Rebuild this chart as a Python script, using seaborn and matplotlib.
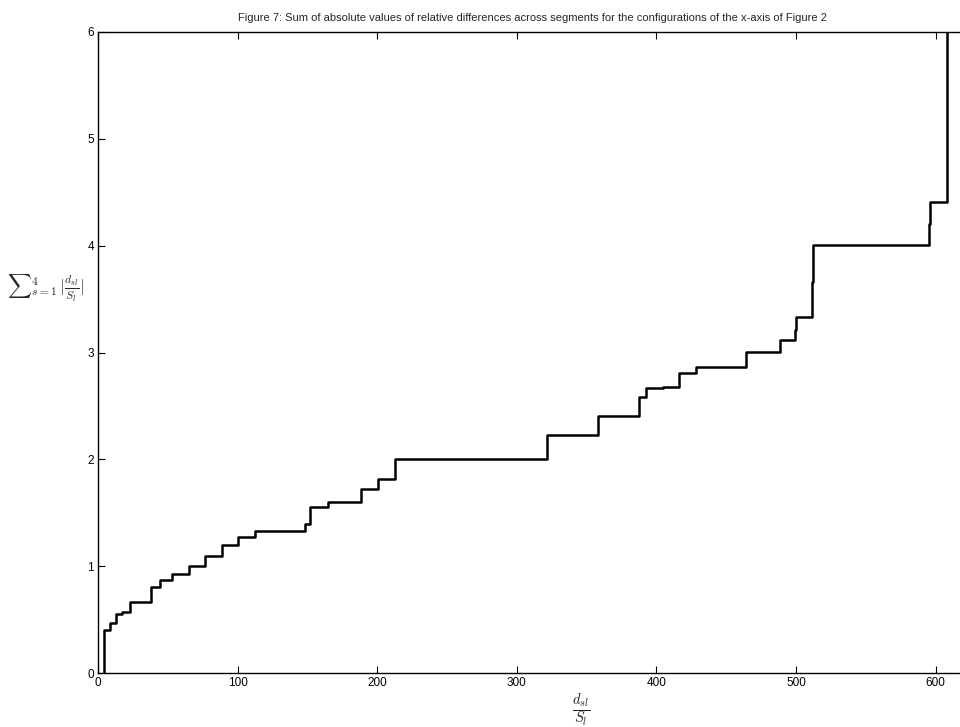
import matplotlib
matplotlib.use("Agg")
import matplotlib.pyplot as plt
import seaborn as sns
import pandas as pd

# Step positions (x) and step levels (y)
step_x = [4.0, 4.3, 8.9, 13.2, 17.2, 22.7, 38.3, 44.7, 53.0, 65.0, 77.0, 88.9,
          100.3, 112.8, 148.0, 152.0, 164.5, 188.5, 200.4, 212.5, 321.7, 358.2,
          387.8, 392.6, 404.8, 416.5, 428.4, 464.3, 488.3, 499.6, 500.0, 511.7,
          512.0, 595.4, 595.7, 608.2]
step_y = [0.0, 0.40, 0.465, 0.55, 0.575, 0.665, 0.805, 0.87, 0.93, 1.0, 1.095,
          1.20, 1.276, 1.332, 1.395, 1.557, 1.605, 1.725, 1.82, 2.0, 2.225, 2.41,
          2.58, 2.67, 2.68, 2.81, 2.867, 3.008, 3.117, 3.21, 3.335, 3.66, 4.006,
          4.2, 4.41, 6.3]

x_ticks = [0, 100, 200, 300, 400, 500, 600]
y_ticks = [0, 1, 2, 3, 4, 5, 6]
title = "Figure 7: Sum of absolute values of relative differences across segments for the configurations of the x-axis of Figure 2"

sns.set_theme(style="ticks")
plt.rcParams['font.family'] = ['Liberation Sans', 'DejaVu Sans']
plt.rcParams['mathtext.fontset'] = 'cm'

df = pd.DataFrame({"x": step_x, "y": step_y})

fig = plt.figure(figsize=(9.6, 7.27), dpi=100)
W, H = 960, 727
ax = fig.add_axes([98 / W, 1 - 673 / H, 865.5 / W, 641 / H])

sns.lineplot(data=df, x="x", y="y", ax=ax, color="black", linewidth=1.8,
             drawstyle="steps-post", estimator=None, sort=False)

ax.set_xlim(0, 620)
ax.set_ylim(0, 6)
ax.set_xticks(x_ticks)
ax.set_yticks(y_ticks)
ax.tick_params(direction="in", length=5, width=0.8, top=True, right=False,
               labelsize=8.5, colors="black", pad=3)
for s in ax.spines.values():
    s.set_linewidth(1.0)
    s.set_color("black")

ax.set_xlabel(r"$\frac{d_{sl}}{S_l}$", fontsize=15)
ax.xaxis.set_label_coords((581 - 98) / 865.5, (673 - 710) / 641)
ax.xaxis.label.set_va("center")
ax.set_ylabel(r"${\sum}_{s=1}^{4}\,|\frac{d_{sl}}{S_l}|$", fontsize=12, rotation=0,
              ha="center", va="center")
ax.yaxis.set_label_coords((46 - 98) / 865.5, (673 - 288) / 641)

fig.text(532 / W, 1 - 18 / H, title, ha="center", va="center", fontsize=8)

fig.savefig("out.png", dpi=100)
